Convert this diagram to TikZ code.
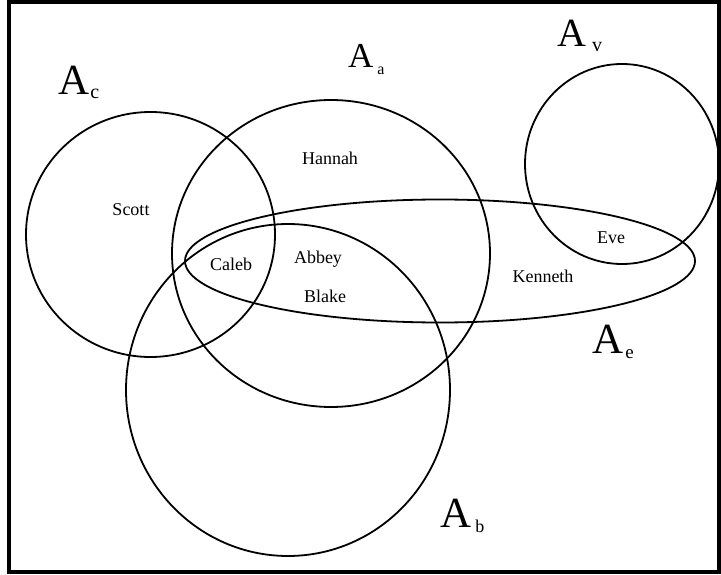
\documentclass[tikz,border=0pt]{standalone}
\usepackage{fontspec}
\setmainfont{Liberation Serif}

% subscript of a set name: kern, drop, size, letter
\newcommand{\setsub}[4]{\kern#1\lower#2\hbox{\fontsize{#3}{#3}\selectfont #4}}

\begin{document}
\begin{tikzpicture}[x=1pt, y=-1pt,
    setline/.style={draw, line width=1.8pt},
    member/.style={inner sep=0pt, text height=11pt, text depth=0pt, font=\fontsize{18}{20}\selectfont},
    setlabel/.style={anchor=base west, inner sep=0pt, font=\fontsize{43}{48}\selectfont}
]
    \useasboundingbox (0,0) rectangle (721,575);
    \fill[white] (0,0) rectangle (721,575);
    \draw[line width=4pt] (9,2) rectangle (719,572);

    % the sets
    \draw[setline] (150.5,234.5) ellipse [x radius=124.5, y radius=122.5];
    \draw[setline] (331,253.5) ellipse [x radius=159, y radius=153.5];
    \draw[setline] (288,390) ellipse [x radius=162, y radius=166];
    \draw[setline] (622,164) ellipse [x radius=97, y radius=100];
    \draw[setline] (440,261) ellipse [x radius=255, y radius=61.5];

    % set names
    \node[setlabel] (labc) at (58,95) {A\setsub{1pt}{4pt}{20}{c}};
    \node[setlabel, font=\fontsize{35}{40}\selectfont] (laba) at (348,68) {A\setsub{4pt}{7pt}{16}{a}};
    \node[setlabel, font=\fontsize{40}{44}\selectfont] (labv) at (557,47) {A\setsub{6pt}{5pt}{20}{v}};
    \node[setlabel] (labe) at (592,353) {A\setsub{2pt}{5pt}{19}{e}};
    \node[setlabel] (labb) at (440,527) {A\setsub{4pt}{5pt}{18}{b}};

    % members
    \node[member] (hannah) at (330,159) {Hannah};
    \node[member] (scott) at (131,210) {Scott};
    \node[member] (caleb) at (231,265) {Caleb};
    \node[member] (abbey) at (318,258) {Abbey};
    \node[member] (blake) at (325,297) {Blake};
    \node[member] (kenneth) at (543,277) {Kenneth};
    \node[member] (eve) at (611,238) {Eve};
\end{tikzpicture}
\end{document}
